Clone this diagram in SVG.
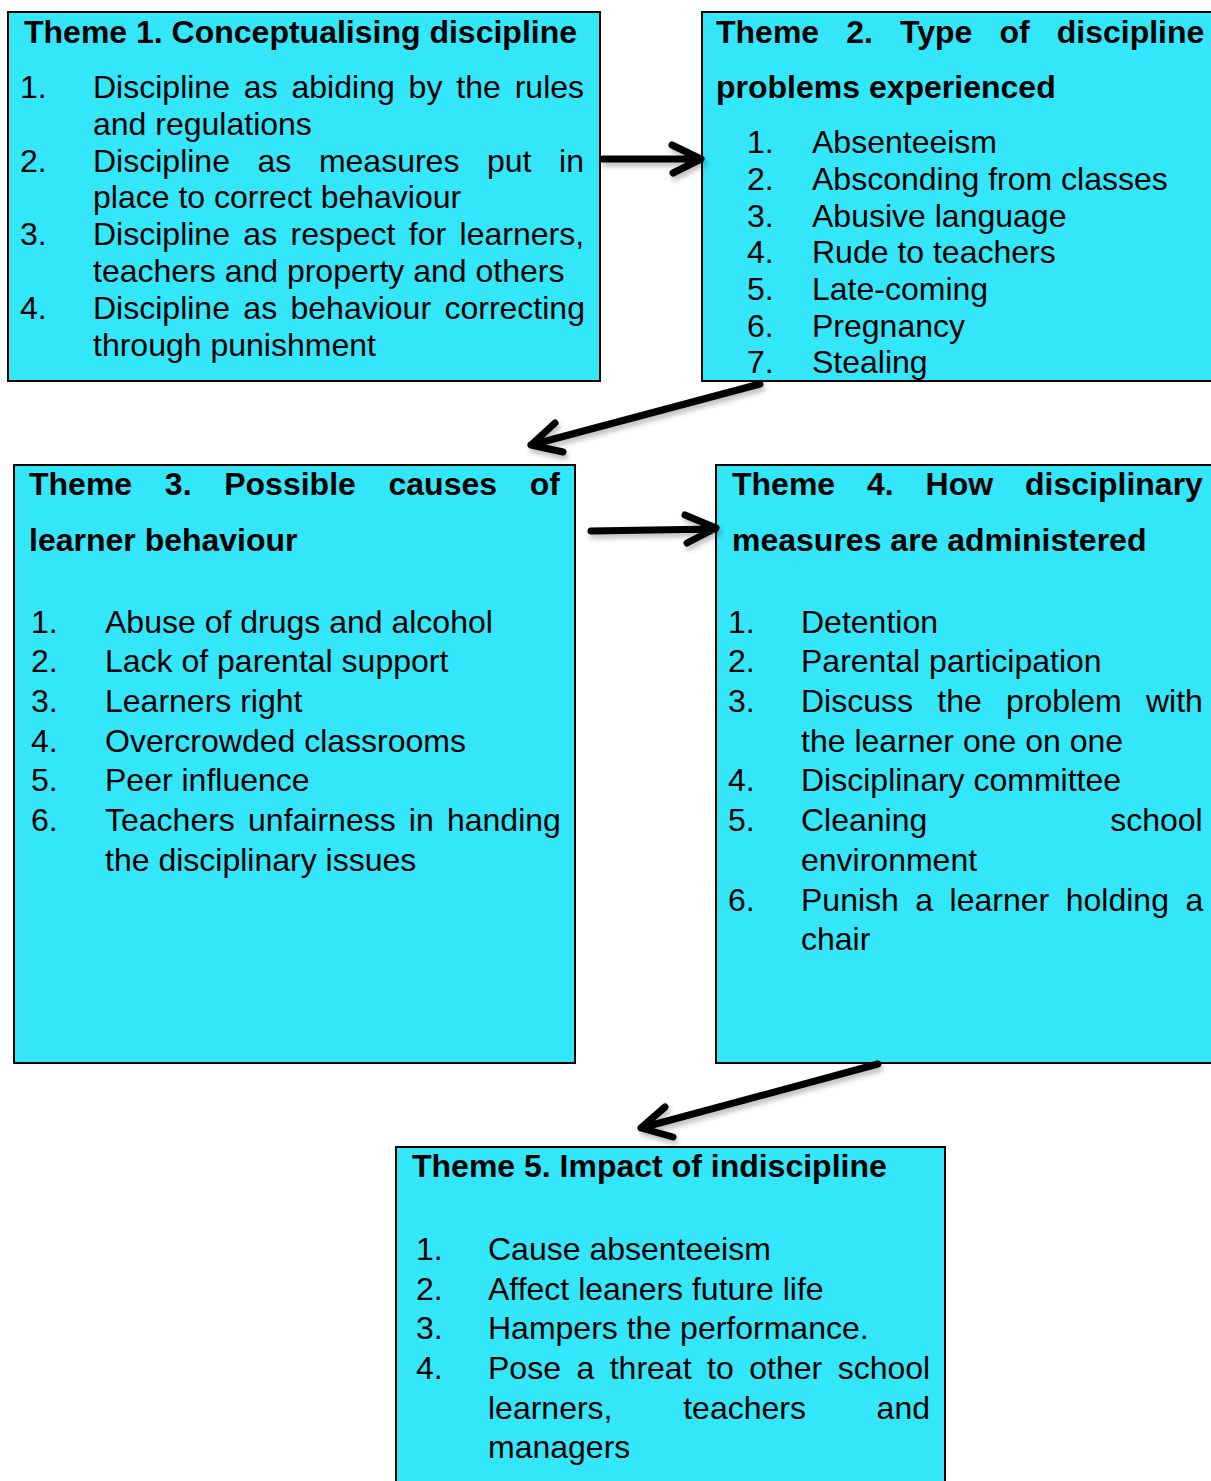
<svg xmlns="http://www.w3.org/2000/svg" width="1211" height="1481" viewBox="0 0 1211 1481">
<style>
.box{fill:#33E6FA;stroke:#000;stroke-width:2}
text{font-family:"Liberation Sans",Arial,sans-serif;font-size:32px;fill:#000}
.h{font-weight:bold}
.arr{fill:none;stroke:#000;stroke-width:7;stroke-linecap:round;stroke-linejoin:round}
</style>
<defs>
<filter id="sh" x="-20%" y="-20%" width="140%" height="160%">
<feDropShadow dx="2" dy="4" stdDeviation="2.5" flood-color="#000" flood-opacity="0.25"/>
</filter>
</defs>
<rect x="0" y="0" width="1211" height="1481" fill="#fff"/>

<g id="theme1">
<rect class="box" x="8" y="12" width="592" height="369"/>
<text class="h" x="24" y="43">Theme 1. Conceptualising discipline</text>
<text x="20" y="98">1.</text><text x="93" y="98" word-spacing="5">Discipline as abiding by the rules</text>
<text x="93" y="135">and regulations</text>
<text x="20" y="172">2.</text><text x="93" y="172" word-spacing="18.7">Discipline as measures put in</text>
<text x="93" y="208">place to correct behaviour</text>
<text x="20" y="245">3.</text><text x="93" y="245" word-spacing="4.5">Discipline as respect for learners,</text>
<text x="93" y="282">teachers and property and others</text>
<text x="20" y="319">4.</text><text x="93" y="319" word-spacing="4.5">Discipline as behaviour correcting</text>
<text x="93" y="356">through punishment</text>
</g>

<g id="theme2">
<rect class="box" x="702" y="12" width="520" height="369"/>
<text class="h" x="716" y="43" word-spacing="18.2">Theme 2. Type of discipline</text>
<text class="h" x="716" y="98">problems experienced</text>
<text x="747" y="153">1.</text><text x="812" y="153">Absenteeism</text>
<text x="747" y="190">2.</text><text x="812" y="190">Absconding from classes</text>
<text x="747" y="227">3.</text><text x="812" y="227">Abusive language</text>
<text x="747" y="263">4.</text><text x="812" y="263">Rude to teachers</text>
<text x="747" y="300">5.</text><text x="812" y="300">Late-coming</text>
<text x="747" y="337">6.</text><text x="812" y="337">Pregnancy</text>
<text x="747" y="373">7.</text><text x="812" y="373">Stealing</text>
</g>

<g id="theme3">
<rect class="box" x="14" y="465" width="561" height="598"/>
<text class="h" x="29" y="495" word-spacing="23.8">Theme 3. Possible causes of</text>
<text class="h" x="29" y="551">learner behaviour</text>
<text x="31" y="633">1.</text><text x="105" y="633">Abuse of drugs and alcohol</text>
<text x="31" y="672">2.</text><text x="105" y="672">Lack of parental support</text>
<text x="31" y="712">3.</text><text x="105" y="712">Learners right</text>
<text x="31" y="752">4.</text><text x="105" y="752">Overcrowded classrooms</text>
<text x="31" y="791">5.</text><text x="105" y="791">Peer influence</text>
<text x="31" y="831">6.</text><text x="105" y="831" word-spacing="4.3">Teachers unfairness in handing</text>
<text x="105" y="871">the disciplinary issues</text>
</g>

<g id="theme4">
<rect class="box" x="716" y="465" width="506" height="598"/>
<text class="h" x="732" y="495" word-spacing="23">Theme 4. How disciplinary</text>
<text class="h" x="732" y="551">measures are administered</text>
<text x="728" y="633">1.</text><text x="801" y="633">Detention</text>
<text x="728" y="672">2.</text><text x="801" y="672">Parental participation</text>
<text x="728" y="712">3.</text><text x="801" y="712" word-spacing="15.4">Discuss the problem with</text>
<text x="801" y="752">the learner one on one</text>
<text x="728" y="791">4.</text><text x="801" y="791">Disciplinary committee</text>
<text x="728" y="831">5.</text><text x="801" y="831" word-spacing="174">Cleaning school</text>
<text x="801" y="871">environment</text>
<text x="728" y="911">6.</text><text x="801" y="911" word-spacing="7.6">Punish a learner holding a</text>
<text x="801" y="950">chair</text>
</g>

<g id="theme5">
<rect class="box" x="396" y="1147" width="549" height="345"/>
<text class="h" x="412" y="1177">Theme 5. Impact of indiscipline</text>
<text x="416" y="1260">1.</text><text x="488" y="1260">Cause absenteeism</text>
<text x="416" y="1300">2.</text><text x="488" y="1300">Affect leaners future life</text>
<text x="416" y="1339">3.</text><text x="488" y="1339">Hampers the performance.</text>
<text x="416" y="1379">4.</text><text x="488" y="1379" word-spacing="6.6">Pose a threat to other school</text>
<text x="488" y="1419" word-spacing="61.8">learners, teachers and</text>
<text x="488" y="1458">managers</text>
</g>

<g id="connectors" filter="url(#sh)">
<path class="arr" d="M603 159 L700 159 M672 145 L701 159 L673 173"/>
<path class="arr" d="M760 384 L531 445 M555 423 L531 445 L563 452"/>
<path class="arr" d="M591 531 L715 529 M685 515 L716 528 L687 543"/>
<path class="arr" d="M878 1064 L641 1128 M665 1107 L641 1128 L673 1137"/>
</g>
</svg>
